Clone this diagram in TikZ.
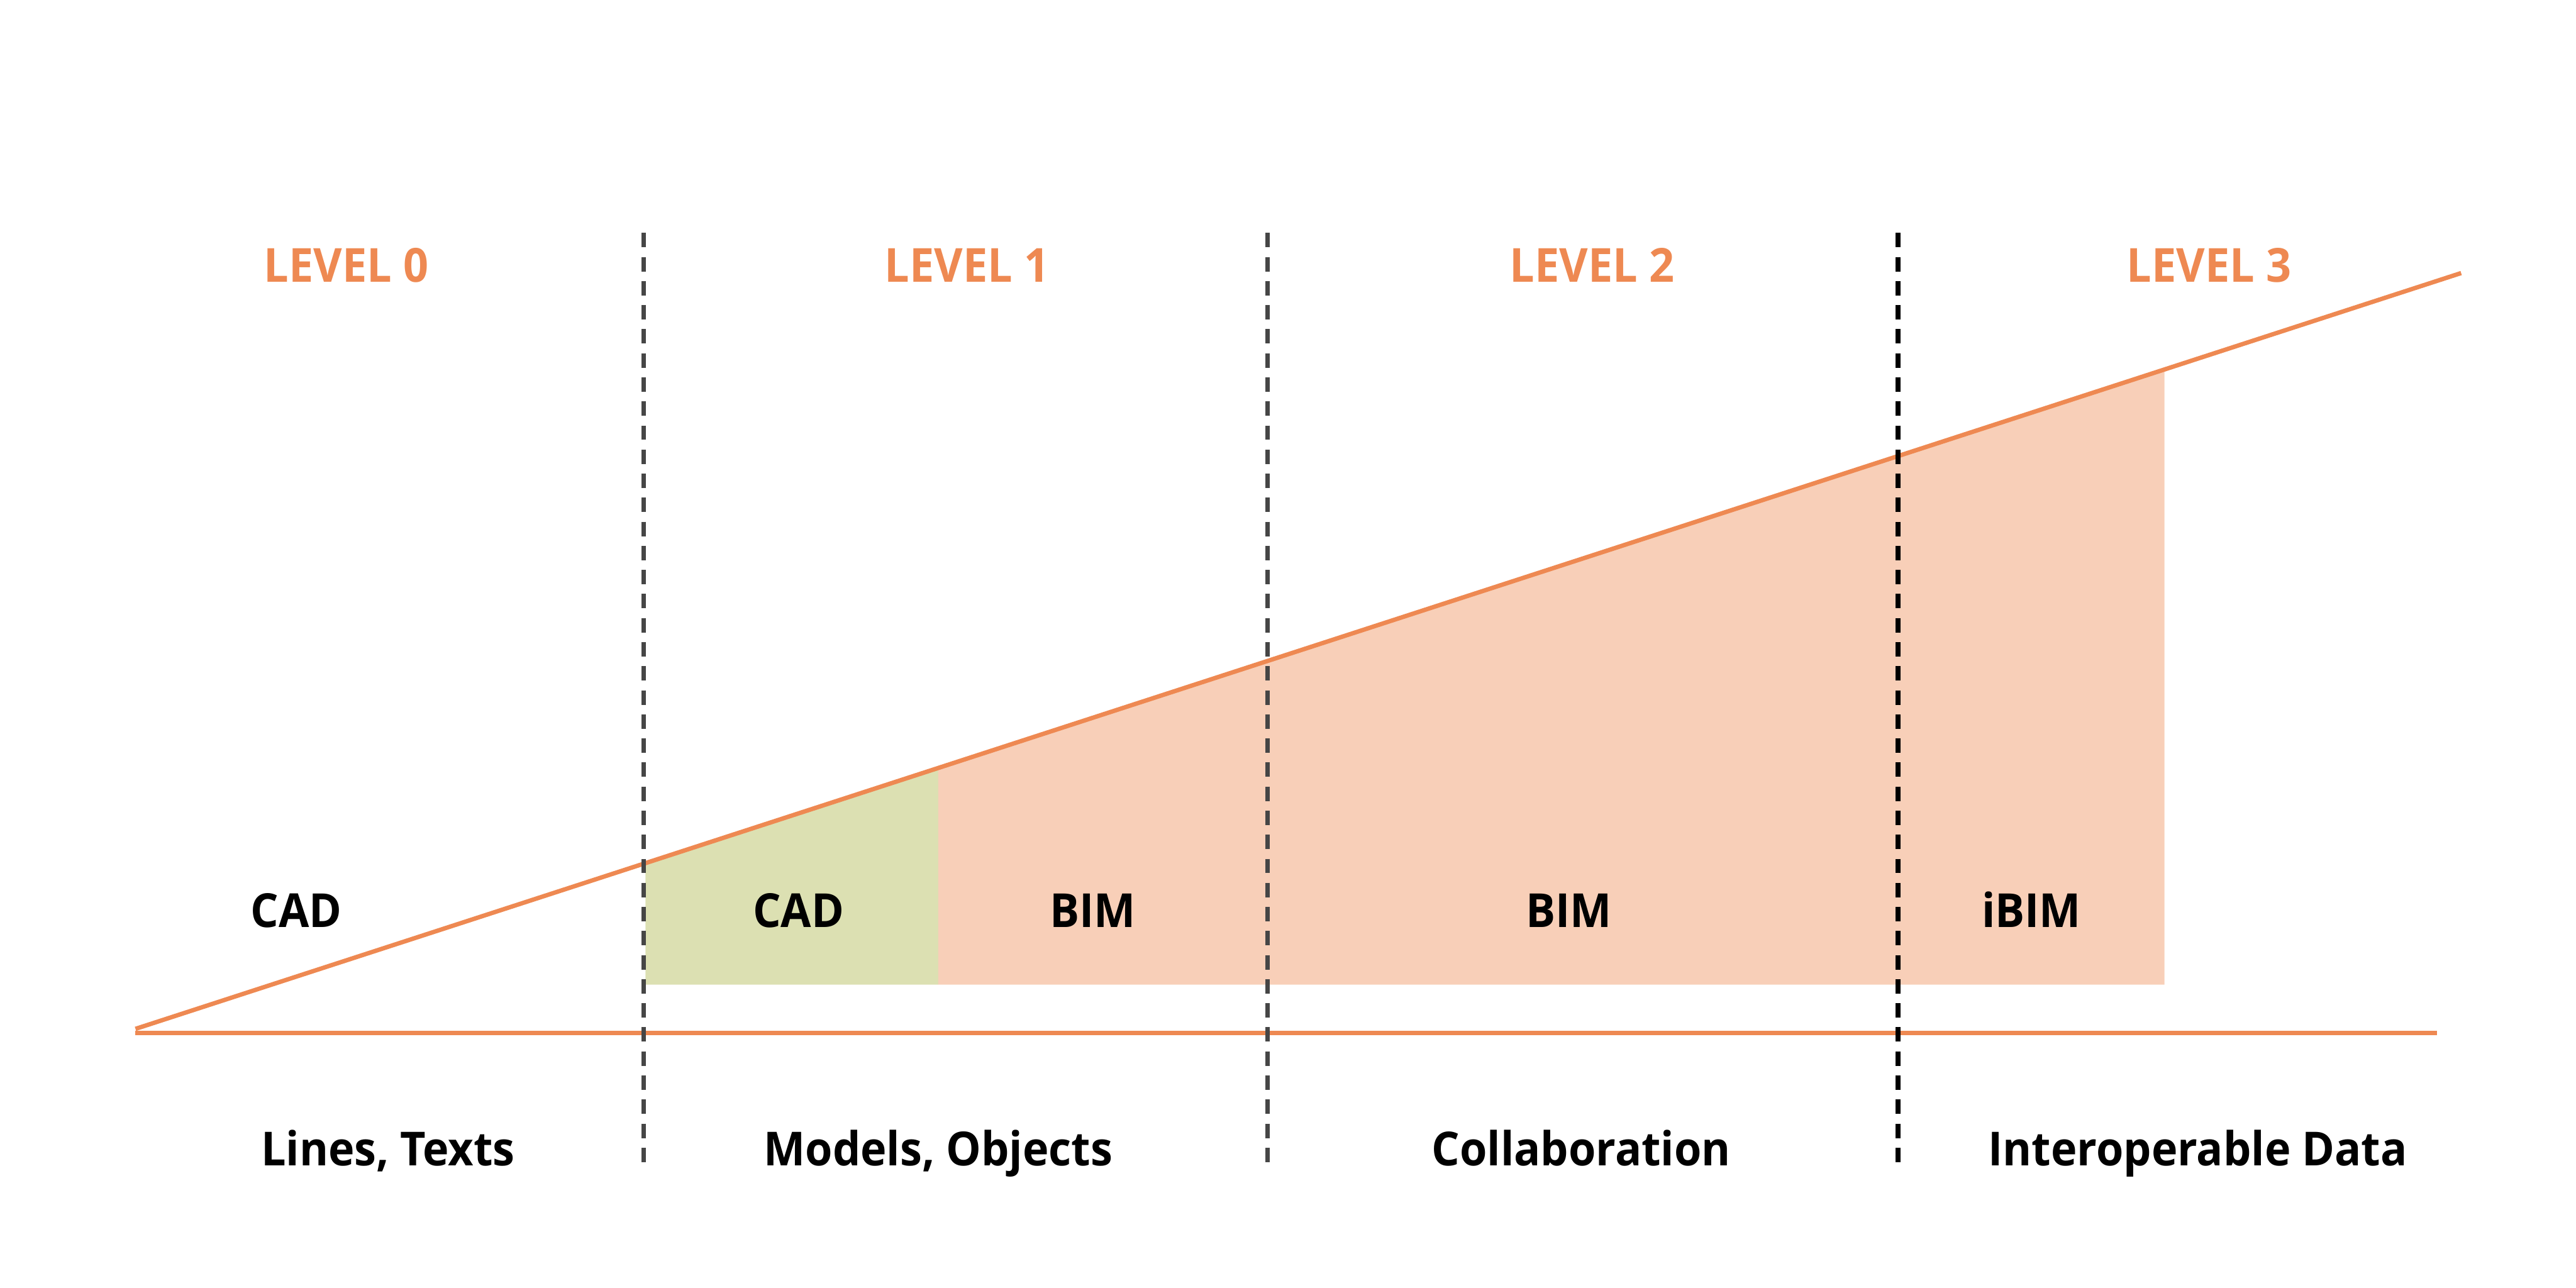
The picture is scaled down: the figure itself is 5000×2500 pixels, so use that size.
\documentclass[tikz,border=0pt]{standalone}
\usepackage{fontspec}
\setmainfont{Open Sans}[FakeStretch=0.94]
\usetikzlibrary{calc}
\definecolor{lineorange}{RGB}{238,137,82}
\definecolor{salmonfill}{RGB}{248,207,184}
\definecolor{greenfill}{RGB}{220,224,178}
\definecolor{dashgray}{RGB}{70,70,70}
\tikzset{
  axisline/.style={draw=lineorange, line width=2.4pt},
  divider/.style={line width=2.5pt, dash pattern=on 0.28cm off 0.187cm},
  leveltext/.style={anchor=base, text=lineorange, font=\fontsize{25.9pt}{30pt}\selectfont\bfseries, inner sep=0pt},
  bodytext/.style={anchor=base, text=black, font=\fontsize{25.9pt}{30pt}\selectfont\bfseries, inner sep=0pt}
}
\begin{document}
\begin{tikzpicture}[x=0.01cm, y=-0.01cm]
\useasboundingbox (0,0) rectangle (5000,2500);
% coordinates
\coordinate (dstart) at (263,1997);
\coordinate (dend) at (4777,530);
\coordinate (bstart) at (263,2005);
\coordinate (bend) at (4730,2005);
% fills
\fill[greenfill] (1253,1675.3) -- (1821,1490.7) -- (1821,1911) -- (1253,1911) -- cycle;
\fill[salmonfill] (1821,1490.7) -- (4201,717.2) -- (4201,1911) -- (1821,1911) -- cycle;
% orange lines
\draw[axisline] (dstart) -- (dend);
\draw[axisline] (bstart) -- (bend);
% dividers
\coordinate (d1t) at (1249,452); \coordinate (d1b) at (1249,2262);
\coordinate (d2t) at (2460,452); \coordinate (d2b) at (2460,2262);
\coordinate (d3t) at (3684,452); \coordinate (d3b) at (3684,2262);
\draw[divider, dashgray] (d1t) -- (d1b);
\draw[divider, dashgray] (d2t) -- (d2b);
\draw[divider, black] (d3t) -- (d3b);
% level labels
\node[leveltext] (l0) at (672,547) {LEVEL 0};
\node[leveltext] (l1) at (1877,547) {LEVEL 1};
\node[leveltext] (l2) at (3090,547) {LEVEL 2};
\node[leveltext] (l3) at (4288,547) {LEVEL 3};
% inner labels
\node[bodytext] (cad0) at (575,1800) {CAD};
\node[bodytext] (cad1) at (1550,1800) {CAD};
\node[bodytext] (bim1) at (2121,1800) {BIM};
\node[bodytext] (bim2) at (3045,1800) {BIM};
\node[bodytext] (ibim) at (3943,1800) {iBIM};
% bottom labels
\node[bodytext] (b0) at (753,2262) {Lines, Texts};
\node[bodytext] (b1) at (1821,2262) {Models, Objects};
\node[bodytext] (b2) at (3069,2262) {Collaboration};
\node[bodytext] (b3) at (4266,2262) {Interoperable Data};
\end{tikzpicture}
\end{document}
